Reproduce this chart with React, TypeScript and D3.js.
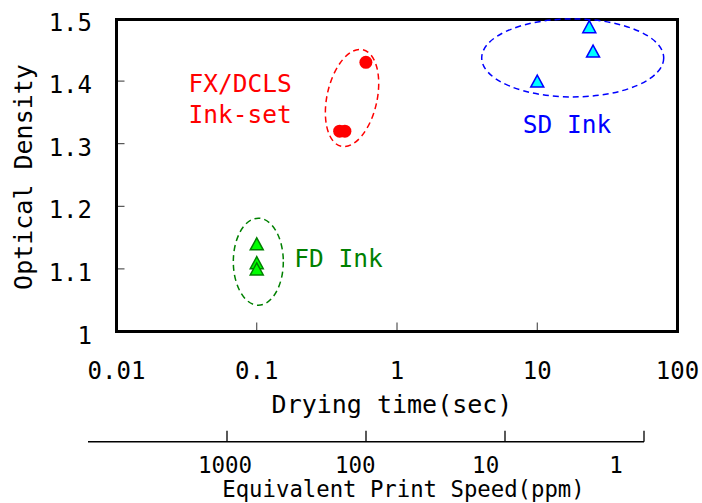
import { useEffect, useRef } from "react";
import * as d3 from "d3";

// drying time (sec) vs optical density
const fxTime = [0.39, 0.425, 0.6];
const fxDensity = [1.32, 1.32, 1.43];
const sdTime = [10, 23.5, 25];
const sdDensity = [1.4, 1.487, 1.448];
const fdTime = [0.1, 0.1, 0.1];
const fdDensity = [1.14, 1.11, 1.1];

const timeTicks = [0.01, 0.1, 1, 10, 100];
const timeTickLabels = ["0.01", "0.1", "1", "10", "100"];
const densityTicks = [1, 1.1, 1.2, 1.3, 1.4, 1.5];
const densityTickLabels = ["1", "1.1", "1.2", "1.3", "1.4", "1.5"];
const speedTicks = [1000, 100, 10, 1];
const speedTickLabels = ["1000", "100", "10", "1"];

const W = 702;
const H = 503;
const FONT = "'DejaVu Sans Mono', monospace";

// dashed rings round each ink group (centre in data units)
const rings = [
  { t: 0.478, d: 1.373, rx: 25, ry: 49.5, rot: 12.6, color: "#ff0000" },
  { t: 17.9, d: 1.437, rx: 91, ry: 39, rot: 0, color: "#0000ff" },
  { t: 0.1026, d: 1.1115, rx: 25, ry: 43.5, rot: 0, color: "#008000" },
];

const groupLabels = [
  { lines: ["FX/DCLS", "Ink-set"], t: 0.076, d: 1.3826, color: "#ff0000" },
  { lines: ["SD Ink"], t: 16.3, d: 1.317, color: "#0000ff" },
  { lines: ["FD Ink"], t: 0.383, d: 1.103, color: "#008000" },
];

const triangle = (w: number, h: number) =>
  `M0,${-h / 2}L${w / 2},${h / 2}L${-w / 2},${h / 2}Z`;

export default function App() {
  const svgRef = useRef<SVGSVGElement>(null);

  useEffect(() => {
    if (!svgRef.current) return;
    const svg = d3.select(svgRef.current);
    svg.selectAll("*").remove();

    const x = d3.scaleLog().domain([0.01, 100]).range([116.5, 677.5]);
    const y = d3.scaleLinear().domain([1, 1.5]).range([331.5, 18.5]);
    const speed = d3.scaleLog().domain([10000, 1]).range([88, 644]);
    const speedLabel = d3.scaleLog().domain([1000, 1]).range([225, 616]);

    const x0 = x.range()[0];
    const x1 = x.range()[1];
    const y0 = y.range()[0];
    const y1 = y.range()[1];

    // inner ticks
    svg
      .selectAll(".ytick")
      .data(densityTicks.slice(1, -1))
      .enter()
      .append("line")
      .attr("x1", x0)
      .attr("x2", x0 + 8)
      .attr("y1", (d) => y(d))
      .attr("y2", (d) => y(d))
      .attr("stroke", "#333")
      .attr("stroke-width", 1);

    svg
      .selectAll(".xtick")
      .data(timeTicks.slice(1, -1))
      .enter()
      .append("line")
      .attr("x1", (d) => x(d))
      .attr("x2", (d) => x(d))
      .attr("y1", y0)
      .attr("y2", y0 - 9)
      .attr("stroke", "#333")
      .attr("stroke-width", 1);

    svg
      .append("rect")
      .attr("x", x0)
      .attr("y", y1 + 1)
      .attr("width", x1 - x0)
      .attr("height", y0 - y1 - 1)
      .attr("fill", "none")
      .attr("stroke", "#000")
      .attr("stroke-width", 3);

    // tick labels
    svg
      .selectAll(".ylab")
      .data(densityTicks)
      .enter()
      .append("text")
      .attr("x", x0 - 24.5)
      .attr("y", (d) => y(d) + 12)
      .attr("text-anchor", "end")
      .attr("font-family", FONT)
      .attr("font-size", 24)
      .text((d, i) => densityTickLabels[i]);

    svg
      .selectAll(".xlab")
      .data(timeTicks)
      .enter()
      .append("text")
      .attr("x", (d) => x(d))
      .attr("y", 379)
      .attr("text-anchor", "middle")
      .attr("font-family", FONT)
      .attr("font-size", 24)
      .text((d, i) => timeTickLabels[i]);

    svg
      .append("text")
      .attr("x", 392)
      .attr("y", 413)
      .attr("text-anchor", "middle")
      .attr("font-family", FONT)
      .attr("font-size", 25)
      .text("Drying time(sec)");

    svg
      .append("text")
      .attr("transform", "translate(32,177) rotate(-90)")
      .attr("text-anchor", "middle")
      .attr("font-family", FONT)
      .attr("font-size", 25)
      .text("Optical Density");

    // secondary axis: equivalent print speed
    const axisY = 441.7;
    svg
      .append("line")
      .attr("x1", speed(10000))
      .attr("x2", speed(1))
      .attr("y1", axisY)
      .attr("y2", axisY)
      .attr("stroke", "#000")
      .attr("stroke-width", 1.5);

    svg
      .selectAll(".stick")
      .data(speedTicks)
      .enter()
      .append("line")
      .attr("x1", (d) => speed(d))
      .attr("x2", (d) => speed(d))
      .attr("y1", axisY)
      .attr("y2", axisY - 11)
      .attr("stroke", "#000")
      .attr("stroke-width", 1.3);

    svg
      .selectAll(".slab")
      .data(speedTicks)
      .enter()
      .append("text")
      .attr("x", (d) => speedLabel(d))
      .attr("y", 473)
      .attr("text-anchor", "middle")
      .attr("font-family", FONT)
      .attr("font-size", 22.5)
      .text((d, i) => speedTickLabels[i]);

    svg
      .append("text")
      .attr("x", 403.5)
      .attr("y", 497)
      .attr("text-anchor", "middle")
      .attr("font-family", FONT)
      .attr("font-size", 22.3)
      .text("Equivalent Print Speed(ppm)");

    // group rings
    svg
      .selectAll(".ring")
      .data(rings)
      .enter()
      .append("ellipse")
      .attr("transform", (d) => `translate(${x(d.t)},${y(d.d)}) rotate(${d.rot})`)
      .attr("rx", (d) => d.rx)
      .attr("ry", (d) => d.ry)
      .attr("fill", "none")
      .attr("stroke", (d) => d.color)
      .attr("stroke-width", 1.5)
      .attr("stroke-dasharray", "6,4");

    // points
    svg
      .selectAll(".fx")
      .data(fxTime)
      .enter()
      .append("circle")
      .attr("cx", (d) => x(d))
      .attr("cy", (d, i) => y(fxDensity[i]))
      .attr("r", 6.5)
      .attr("fill", "#ff0000");

    svg
      .selectAll(".sd")
      .data(sdTime)
      .enter()
      .append("path")
      .attr("transform", (d, i) => `translate(${x(d)},${y(sdDensity[i])})`)
      .attr("d", triangle(13, 12))
      .attr("fill", "#00ffff")
      .attr("stroke", "#0000ff")
      .attr("stroke-width", 1.5);

    svg
      .selectAll(".fd")
      .data(fdTime)
      .enter()
      .append("path")
      .attr("transform", (d, i) => `translate(${x(d)},${y(fdDensity[i])})`)
      .attr("d", triangle(13, 12))
      .attr("fill", "#00ff00")
      .attr("stroke", "#008000")
      .attr("stroke-width", 1.5);

    // group labels
    groupLabels.forEach((g) => {
      const t = svg
        .append("text")
        .attr("text-anchor", "middle")
        .attr("font-family", FONT)
        .attr("font-size", 24.5)
        .attr("fill", g.color);
      g.lines.forEach((line, i) => {
        t.append("tspan")
          .attr("x", x(g.t))
          .attr("y", y(g.d) + i * 31)
          .text(line);
      });
    });
  }, []);

  return (
    <svg
      ref={svgRef}
      width={W}
      height={H}
      style={{ position: "absolute", left: 0, top: 0, display: "block", background: "#fff" }}
    />
  );
}
